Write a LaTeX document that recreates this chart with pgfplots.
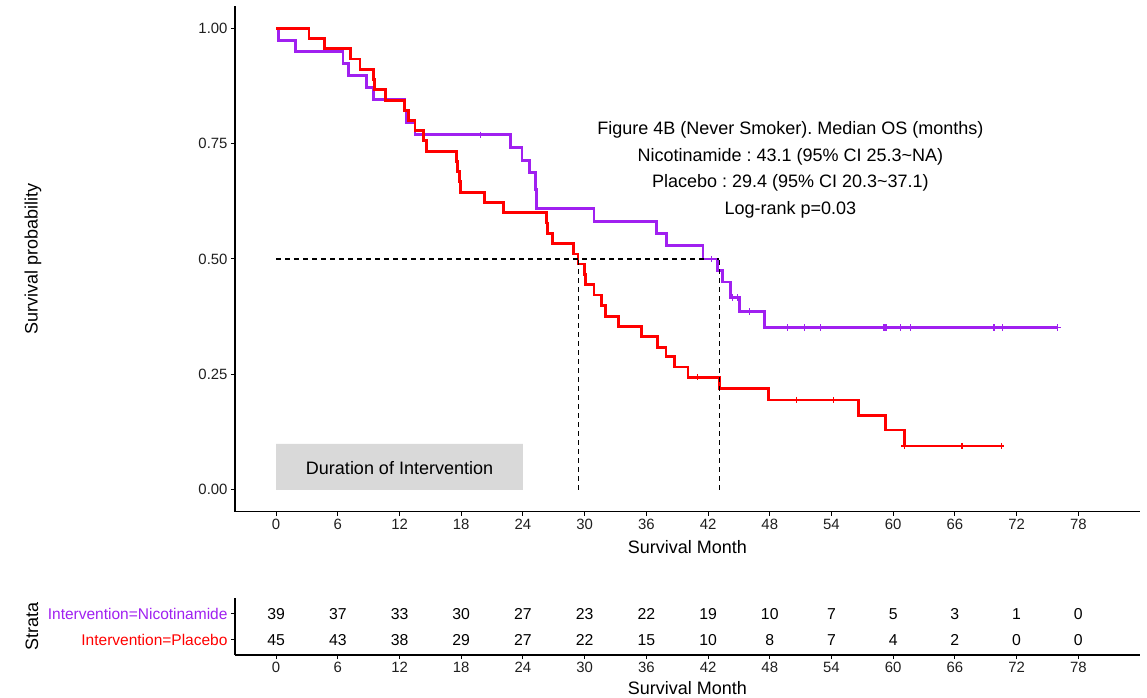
\documentclass[border=0pt]{standalone}
\usepackage{fontspec}
\setmainfont{Liberation Sans}
\usepackage{pgfplots}
\pgfplotsset{compat=1.18}
\definecolor{kmpurple}{HTML}{A020F0}
\definecolor{kmred}{HTML}{FF0000}
\definecolor{boxgrey}{HTML}{D9D9D9}
\frenchspacing
\begin{document}
\begin{tikzpicture}
\pgfplotsset{
  kmbase/.style={
    scale only axis, width=905bp,
    xmin=-4, xmax=84,
    axis x line=bottom, axis y line=left,
    axis line style={-, black, line width=1.1bp},
    xtick={0,6,...,78},
    tick align=outside, major tick length=4bp,
    tick style={black, line width=1bp},
    ticklabel style={font=\fontsize{14.9bp}{16bp}\selectfont, color=black!88},
    /pgf/number format/assume math mode=true,
    label style={font=\fontsize{18bp}{20bp}\selectfont, color=black},
  },
  risknum/.style={draw=none, mark=none, nodes near coords, point meta=explicit symbolic,
    nodes near coords align=center,
    every node near coord/.append style={font=\fontsize{15.8bp}{17bp}\selectfont, color=black,
      text height=11.4bp, text depth=0bp, inner sep=0pt}},
}
% ---------------- main survival plot ----------------
\begin{axis}[kmbase,
  at={(235bp,-511.5bp)}, anchor=south west, height=505.5bp,
  ymin=-0.047, ymax=1.048,
  ytick={0,0.25,0.5,0.75,1},
  yticklabel style={/pgf/number format/.cd, fixed, fixed zerofill, precision=2},
  xlabel={Survival Month}, ylabel={Survival probability},
  xlabel style={at={(axis description cs:0.5,-0.0702)}, anchor=center},
  ylabel style={at={(axis description cs:-0.2232,0.5)}, anchor=center},
]
% grey box
\addplot[fill=boxgrey, draw=none] coordinates {(0,0) (24,0) (24,0.0996) (0,0.0996)} \closedcycle;
\node[font=\fontsize{18bp}{20bp}\selectfont, anchor=center] at (axis cs:12,0.048) {Duration of Intervention};
% Nicotinamide
\addplot[kmpurple, line width=2.8bp, const plot, mark=none] coordinates {
(0,1.0) (0.2,0.974) (1.85,0.949) (6.5,0.923) (7.0,0.897) (8.8,0.872) (9.45,0.846)
(12.5,0.821) (12.7,0.795) (13.5,0.769) (22.75,0.741) (23.9,0.714) (24.6,0.688)
(25.2,0.65) (25.35,0.609) (30.9,0.582) (37.0,0.556) (37.95,0.529) (41.5,0.50)
(42.95,0.475) (43.4,0.45) (44.2,0.417) (45.07,0.386) (47.5,0.352) (76.0,0.352)};
% Placebo
\addplot[kmred, line width=2.8bp, const plot, mark=none] coordinates {
(0,1.0) (3.2,0.978) (4.7,0.956) (7.25,0.933) (8.16,0.911) (9.45,0.889) (9.55,0.867)
(10.65,0.844) (12.5,0.822) (12.85,0.800) (13.5,0.778) (14.3,0.756) (14.6,0.733)
(17.5,0.711) (17.6,0.689) (17.8,0.667) (17.9,0.644) (20.25,0.622) (22.1,0.60)
(26.3,0.578) (26.4,0.556) (26.9,0.533) (28.9,0.511) (29.35,0.489) (30.0,0.467)
(30.05,0.444) (30.9,0.422) (31.6,0.40) (32.0,0.375) (33.3,0.354) (35.5,0.332)
(37.05,0.309) (37.9,0.288) (38.75,0.266) (40.05,0.244) (43.1,0.220) (47.85,0.1945)
(56.6,0.1605) (59.25,0.1295) (61.1,0.095) (70.5,0.095)};
% censor marks
\addplot[kmpurple, only marks, mark=+, mark size=3.2bp, mark options={line width=1.2bp}] coordinates {
(19.9,0.769) (42.3,0.50) (44.35,0.417) (44.9,0.417) (46.0,0.386)
(49.7,0.352) (51.4,0.352) (52.9,0.352) (59.1,0.352) (59.3,0.352) (60.7,0.352)
(61.7,0.352) (69.8,0.352) (70.6,0.352) (76.0,0.352)};
\addplot[kmred, only marks, mark=+, mark size=3.2bp, mark options={line width=1.2bp}] coordinates {
(40.95,0.244) (50.6,0.1945) (54.2,0.1945) (61.1,0.095) (66.7,0.095) (70.5,0.095)};
% median lines
\addplot[black, line width=1.1bp, mark=none, dash pattern=on 5bp off 4bp] coordinates {(0,0.5) (43.1,0.5)};
\addplot[black, line width=1.1bp, mark=none, dash pattern=on 5bp off 4bp] coordinates {(29.4,0) (29.4,0.5)};
\addplot[black, line width=1.1bp, mark=none, dash pattern=on 5bp off 4bp] coordinates {(43.1,0) (43.1,0.5)};
% annotation
\node[font=\fontsize{18bp}{26.7bp}\selectfont, align=center, anchor=center] at (axis cs:50.0,0.693)
{Figure 4B (Never Smoker). Median OS (months)\\Nicotinamide : 43.1 (95\% CI 25.3\textasciitilde NA)\\Placebo : 29.4 (95\% CI 20.3\textasciitilde 37.1)\\Log-rank p=0.03};
\end{axis}
% ---------------- risk table ----------------
\begin{axis}[kmbase,
  at={(235bp,-655bp)}, anchor=south west, height=57bp,
  ymin=0.4, ymax=2.6,
  ytick={1,2},
  yticklabels={{\textcolor{kmred}{Intervention=Placebo}},{\textcolor{kmpurple}{Intervention=Nicotinamide}}},
  yticklabel style={font=\fontsize{15.5bp}{17bp}\selectfont},
  xlabel={Survival Month}, ylabel={Strata},
  xlabel style={at={(axis description cs:0.5,-0.579)}, anchor=center},
  ylabel style={at={(axis description cs:-0.2243,0.5)}, anchor=center},
]
\addplot[risknum] coordinates {
(0,2)[39] (6,2)[37] (12,2)[33] (18,2)[30] (24,2)[27] (30,2)[23] (36,2)[22]
(42,2)[19] (48,2)[10] (54,2)[7] (60,2)[5] (66,2)[3] (72,2)[1] (78,2)[0]};
\addplot[risknum] coordinates {
(0,1)[45] (6,1)[43] (12,1)[38] (18,1)[29] (24,1)[27] (30,1)[22] (36,1)[15]
(42,1)[10] (48,1)[8] (54,1)[7] (60,1)[4] (66,1)[2] (72,1)[0] (78,1)[0]};
\end{axis}
\pgfresetboundingbox
\useasboundingbox (0,0) rectangle (1147bp,-698bp);
\end{tikzpicture}
\end{document}
